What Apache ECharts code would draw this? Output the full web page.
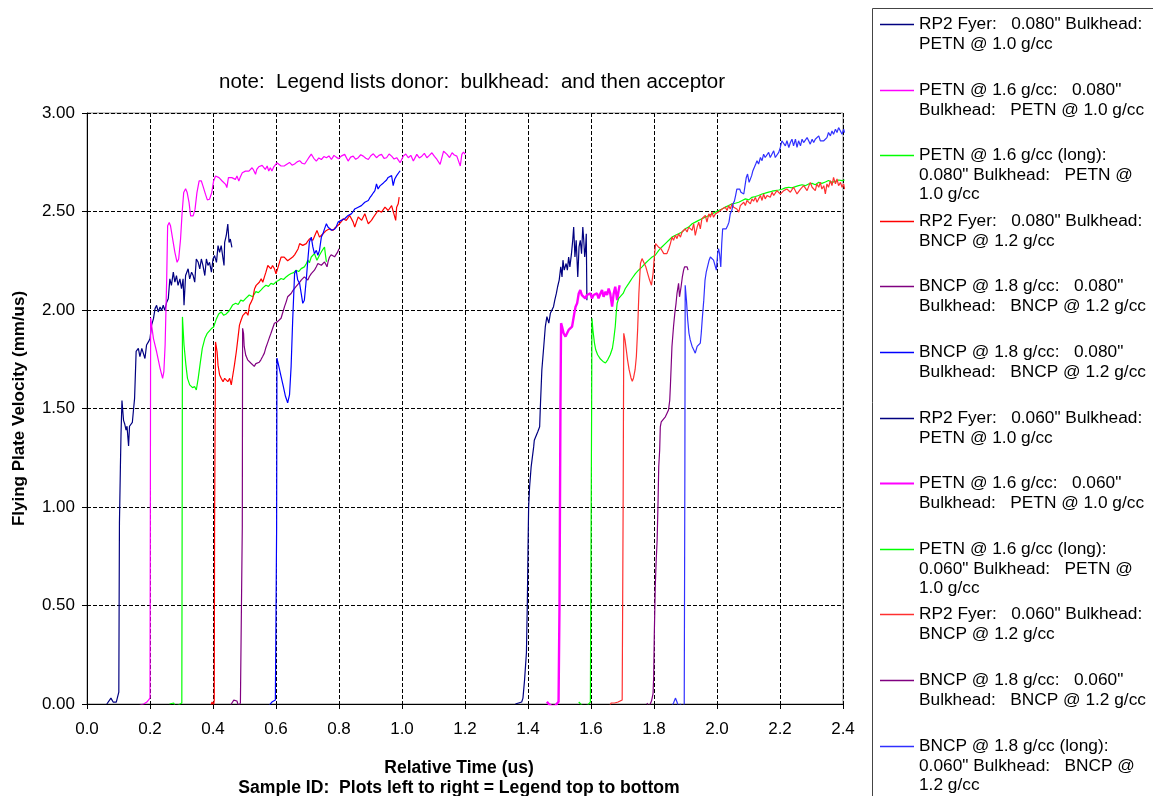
<!DOCTYPE html>
<html><head><meta charset="utf-8">
<script src="https://cdn.jsdelivr.net/npm/echarts@6/dist/echarts.min.js"></script>
<style>html,body{margin:0;padding:0;background:#fff}#c{width:1153px;height:796px}</style>
</head><body><div id="c"></div>
<script>
// ---------- DATA ----------
const titleText = 'note:  Legend lists donor:  bulkhead:  and then acceptor';
const yAxisTitle = 'Flying Plate Velocity (mm/us)';
const xAxisTitle = 'Relative Time (us)';
const xAxisSubtitle = 'Sample ID:  Plots left to right = Legend top to bottom';
const xTickLabels = ['0.0','0.2','0.4','0.6','0.8','1.0','1.2','1.4','1.6','1.8','2.0','2.2','2.4'];
const yTickLabels = ['0.00','0.50','1.00','1.50','2.00','2.50','3.00'];

const seriesNames = [
  'RP2 Fyer:   0.080" Bulkhead:\nPETN @ 1.0 g/cc',
  'PETN @ 1.6 g/cc:   0.080"\nBulkhead:   PETN @ 1.0 g/cc',
  'PETN @ 1.6 g/cc (long):\n0.080" Bulkhead:   PETN @\n1.0 g/cc',
  'RP2 Fyer:   0.080" Bulkhead:\nBNCP @ 1.2 g/cc',
  'BNCP @ 1.8 g/cc:   0.080"\nBulkhead:   BNCP @ 1.2 g/cc',
  'BNCP @ 1.8 g/cc:   0.080"\nBulkhead:   BNCP @ 1.2 g/cc\u200B',
  'RP2 Fyer:   0.060" Bulkhead:\nPETN @ 1.0 g/cc',
  'PETN @ 1.6 g/cc:   0.060"\nBulkhead:   PETN @ 1.0 g/cc',
  'PETN @ 1.6 g/cc (long):\n0.060" Bulkhead:   PETN @\n1.0 g/cc',
  'RP2 Fyer:   0.060" Bulkhead:\nBNCP @ 1.2 g/cc',
  'BNCP @ 1.8 g/cc:   0.060"\nBulkhead:   BNCP @ 1.2 g/cc',
  'BNCP @ 1.8 g/cc (long):\n0.060" Bulkhead:   BNCP @\n1.2 g/cc'
];

const s1 = [[0.063,0.0],[0.069,0.01],[0.076,0.03],[0.083,0.01],[0.088,0.0],[0.093,0.01],[0.098,0.02],[0.101,0.06],[0.102,0.5],[0.103,0.92],[0.106,1.2],[0.108,1.37],[0.111,1.54],[0.116,1.44],[0.12,1.42],[0.124,1.39],[0.127,1.41],[0.132,1.31],[0.135,1.41],[0.14,1.42],[0.144,1.43],[0.148,1.50],[0.151,1.55],[0.156,1.79],[0.163,1.805],[0.168,1.763],[0.174,1.805],[0.179,1.796],[0.184,1.754],[0.189,1.822],[0.195,1.838],[0.2,1.855],[0.205,1.923],[0.211,1.956],[0.216,2.007],[0.221,2.024],[0.226,1.99],[0.232,2.015],[0.237,1.998],[0.242,2.024],[0.247,1.998],[0.253,2.04],[0.258,2.057],[0.263,2.158],[0.268,2.125],[0.274,2.192],[0.279,2.141],[0.284,2.175],[0.289,2.125],[0.295,2.158],[0.3,2.108],[0.305,2.158],[0.308,2.024],[0.313,2.175],[0.321,2.209],[0.326,2.158],[0.332,2.192],[0.337,2.175],[0.342,2.141],[0.347,2.259],[0.353,2.242],[0.358,2.209],[0.363,2.259],[0.368,2.226],[0.374,2.175],[0.379,2.259],[0.384,2.226],[0.389,2.242],[0.395,2.192],[0.4,2.259],[0.405,2.276],[0.411,2.242],[0.416,2.327],[0.421,2.293],[0.426,2.327],[0.432,2.259],[0.435,2.226],[0.437,2.343],[0.442,2.377],[0.447,2.436],[0.451,2.343],[0.455,2.36],[0.46,2.318]];

const s2 = [[0.164,-0.02],[0.169,-0.005],[0.175,-0.015],[0.18,0.0],[0.185,-0.005],[0.19,0.01],[0.196,0.0],[0.2,0.03],[0.201,0.9],[0.202,1.96],[0.205,1.923],[0.211,1.855],[0.221,1.788],[0.232,1.704],[0.24,1.653],[0.244,1.687],[0.248,1.822],[0.253,2.158],[0.256,2.428],[0.261,2.444],[0.265,2.428],[0.272,2.36],[0.279,2.293],[0.286,2.242],[0.291,2.259],[0.297,2.36],[0.302,2.495],[0.307,2.596],[0.313,2.616],[0.318,2.596],[0.324,2.545],[0.329,2.478],[0.337,2.478],[0.343,2.512],[0.349,2.596],[0.356,2.655],[0.363,2.655],[0.368,2.63],[0.376,2.588],[0.382,2.559],[0.389,2.562],[0.396,2.596],[0.402,2.655],[0.408,2.68],[0.414,2.689],[0.419,2.672],[0.424,2.68],[0.429,2.655],[0.435,2.663],[0.44,2.638],[0.444,2.621],[0.449,2.672],[0.455,2.68],[0.46,2.672],[0.465,2.68],[0.471,2.663],[0.476,2.68],[0.482,2.655],[0.486,2.672],[0.493,2.697],[0.498,2.689],[0.503,2.705],[0.508,2.697],[0.514,2.705],[0.519,2.714],[0.524,2.722],[0.529,2.71],[0.535,2.689],[0.539,2.714],[0.545,2.727],[0.551,2.717],[0.556,2.734],[0.561,2.727],[0.566,2.714],[0.572,2.731],[0.577,2.705],[0.582,2.722],[0.587,2.705],[0.593,2.727],[0.598,2.731],[0.603,2.747],[0.608,2.756],[0.616,2.731],[0.627,2.732],[0.643,2.749],[0.651,2.735],[0.659,2.741],[0.667,2.752],[0.675,2.758],[0.683,2.745],[0.691,2.741],[0.702,2.768],[0.712,2.791],[0.72,2.77],[0.728,2.756],[0.736,2.772],[0.744,2.764],[0.752,2.779],[0.76,2.773],[0.768,2.782],[0.776,2.764],[0.784,2.785],[0.791,2.776],[0.799,2.768],[0.807,2.781],[0.818,2.79],[0.829,2.756],[0.837,2.776],[0.845,2.781],[0.853,2.765],[0.861,2.773],[0.869,2.788],[0.877,2.781],[0.885,2.77],[0.893,2.764],[0.901,2.783],[0.909,2.793],[0.919,2.773],[0.927,2.785],[0.935,2.79],[0.943,2.77],[0.951,2.773],[0.959,2.792],[0.967,2.781],[0.975,2.766],[0.983,2.773],[0.994,2.748],[1.004,2.781],[1.012,2.792],[1.02,2.773],[1.028,2.785],[1.036,2.756],[1.047,2.79],[1.055,2.772],[1.063,2.781],[1.071,2.795],[1.079,2.773],[1.087,2.785],[1.095,2.798],[1.103,2.78],[1.111,2.764],[1.121,2.739],[1.132,2.806],[1.143,2.79],[1.151,2.774],[1.159,2.798],[1.166,2.787],[1.174,2.781],[1.185,2.731],[1.19,2.79],[1.195,2.802],[1.201,2.79]];

const s3 = [[0.262,0.0],[0.268,-0.01],[0.275,0.005],[0.28,-0.01],[0.285,0.0],[0.29,-0.005],[0.295,0.0],[0.301,0.005],[0.302,0.9],[0.303,1.965],[0.305,1.906],[0.308,1.822],[0.314,1.72],[0.319,1.653],[0.326,1.62],[0.335,1.606],[0.342,1.611],[0.347,1.594],[0.353,1.653],[0.36,1.737],[0.366,1.805],[0.374,1.855],[0.381,1.88],[0.387,1.875],[0.395,1.906],[0.402,1.914],[0.411,1.956],[0.418,1.98],[0.426,1.99],[0.434,1.973],[0.442,1.98],[0.451,1.995],[0.462,2.025],[0.472,2.034],[0.48,2.028],[0.488,2.05],[0.496,2.045],[0.504,2.059],[0.515,2.076],[0.526,2.067],[0.536,2.093],[0.544,2.088],[0.552,2.101],[0.56,2.115],[0.568,2.126],[0.576,2.12],[0.584,2.135],[0.592,2.13],[0.6,2.143],[0.608,2.15],[0.616,2.16],[0.624,2.155],[0.632,2.168],[0.64,2.178],[0.648,2.185],[0.656,2.19],[0.664,2.202],[0.672,2.195],[0.68,2.21],[0.69,2.219],[0.696,2.235],[0.701,2.253],[0.706,2.24],[0.712,2.269],[0.717,2.26],[0.722,2.286],[0.73,2.253],[0.738,2.278],[0.747,2.303],[0.754,2.32],[0.757,2.28],[0.76,2.244]];

const s4 = [[0.381,-0.01],[0.386,0.0],[0.392,-0.015],[0.397,0.01],[0.402,-0.005],[0.404,0.02],[0.405,0.9],[0.408,1.838],[0.413,1.788],[0.416,1.72],[0.421,1.67],[0.426,1.653],[0.432,1.636],[0.437,1.653],[0.442,1.645],[0.447,1.636],[0.453,1.653],[0.458,1.62],[0.463,1.67],[0.468,1.72],[0.474,1.788],[0.479,1.855],[0.484,1.923],[0.489,1.948],[0.495,1.973],[0.5,1.965],[0.505,1.99],[0.511,1.973],[0.516,2.024],[0.521,2.04],[0.526,2.057],[0.532,2.108],[0.537,2.125],[0.542,2.133],[0.547,2.141],[0.553,2.158],[0.558,2.141],[0.563,2.167],[0.568,2.192],[0.574,2.226],[0.579,2.234],[0.584,2.209],[0.589,2.226],[0.595,2.209],[0.6,2.184],[0.605,2.209],[0.611,2.242],[0.616,2.268],[0.621,2.259],[0.626,2.268],[0.632,2.261],[0.637,2.25],[0.643,2.253],[0.653,2.269],[0.659,2.28],[0.664,2.286],[0.67,2.31],[0.675,2.337],[0.685,2.328],[0.696,2.337],[0.701,2.35],[0.707,2.362],[0.717,2.354],[0.73,2.404],[0.738,2.37],[0.744,2.38],[0.749,2.387],[0.76,2.404],[0.765,2.395],[0.77,2.412],[0.781,2.404],[0.786,2.415],[0.791,2.421],[0.797,2.43],[0.802,2.438],[0.808,2.45],[0.813,2.463],[0.823,2.455],[0.834,2.48],[0.845,2.446],[0.85,2.421],[0.856,2.45],[0.861,2.472],[0.872,2.455],[0.882,2.489],[0.888,2.46],[0.893,2.438],[0.903,2.455],[0.909,2.47],[0.914,2.48],[0.924,2.505],[0.935,2.497],[0.946,2.522],[0.956,2.505],[0.962,2.515],[0.967,2.53],[0.974,2.489],[0.98,2.455],[0.983,2.522],[0.988,2.539],[0.991,2.573]];

const s5 = [[0.455,-0.01],[0.46,0.005],[0.466,0.02],[0.471,0.03],[0.476,0.015],[0.481,-0.01],[0.487,0.005],[0.492,0.01],[0.493,0.9],[0.494,1.907],[0.497,1.88],[0.499,1.815],[0.504,1.77],[0.51,1.747],[0.515,1.738],[0.52,1.731],[0.526,1.74],[0.531,1.714],[0.536,1.728],[0.541,1.722],[0.547,1.735],[0.552,1.747],[0.558,1.765],[0.563,1.781],[0.568,1.81],[0.573,1.832],[0.579,1.86],[0.584,1.882],[0.59,1.91],[0.595,1.933],[0.6,1.93],[0.605,1.941],[0.611,1.95],[0.616,1.958],[0.622,1.99],[0.627,2.017],[0.632,2.04],[0.637,2.067],[0.643,2.075],[0.648,2.084],[0.654,2.1],[0.659,2.109],[0.664,2.12],[0.669,2.118],[0.675,2.14],[0.68,2.152],[0.685,2.16],[0.69,2.168],[0.696,2.16],[0.701,2.152],[0.706,2.17],[0.712,2.185],[0.717,2.19],[0.722,2.202],[0.728,2.22],[0.733,2.236],[0.738,2.23],[0.744,2.227],[0.749,2.236],[0.754,2.244],[0.758,2.232],[0.762,2.219],[0.766,2.25],[0.77,2.269],[0.775,2.28],[0.781,2.286],[0.786,2.27],[0.791,2.278],[0.796,2.295],[0.8,2.311]];

const s6 = [[0.577,-0.01],[0.582,0.0],[0.587,0.01],[0.593,0.005],[0.598,0.02],[0.601,0.03],[0.602,0.9],[0.603,1.756],[0.609,1.714],[0.616,1.663],[0.623,1.613],[0.63,1.562],[0.637,1.529],[0.643,1.571],[0.648,1.714],[0.653,1.95],[0.659,2.185],[0.664,2.202],[0.669,2.152],[0.675,2.135],[0.68,2.084],[0.685,2.034],[0.69,2.05],[0.696,2.152],[0.701,2.253],[0.706,2.345],[0.712,2.37],[0.717,2.32],[0.722,2.286],[0.728,2.303],[0.733,2.278],[0.738,2.303],[0.744,2.37],[0.749,2.387],[0.754,2.412],[0.76,2.438],[0.765,2.421],[0.77,2.412],[0.776,2.405],[0.781,2.396],[0.786,2.41],[0.791,2.421],[0.797,2.446],[0.802,2.45],[0.807,2.455],[0.813,2.458],[0.818,2.463],[0.824,2.47],[0.829,2.48],[0.834,2.485],[0.839,2.488],[0.845,2.5],[0.85,2.513],[0.856,2.518],[0.861,2.522],[0.866,2.525],[0.871,2.53],[0.877,2.54],[0.882,2.547],[0.888,2.55],[0.893,2.556],[0.898,2.57],[0.903,2.581],[0.909,2.595],[0.914,2.606],[0.919,2.64],[0.924,2.614],[0.93,2.63],[0.935,2.64],[0.941,2.645],[0.946,2.648],[0.951,2.66],[0.956,2.673],[0.962,2.678],[0.967,2.682],[0.972,2.631],[0.977,2.665],[0.983,2.682],[0.988,2.69],[0.994,2.707]];

const s7 = [[1.36,0.0],[1.365,-0.01],[1.37,0.005],[1.375,-0.005],[1.38,0.01],[1.384,0.03],[1.389,0.12],[1.395,0.26],[1.398,0.527],[1.4,0.78],[1.402,1.0],[1.405,1.1],[1.41,1.204],[1.418,1.305],[1.42,1.339],[1.431,1.382],[1.437,1.407],[1.439,1.5],[1.444,1.697],[1.45,1.815],[1.455,1.916],[1.46,1.966],[1.466,1.933],[1.471,1.983],[1.476,2.0],[1.481,2.017],[1.485,2.05],[1.49,2.084],[1.494,2.118],[1.499,2.152],[1.504,2.219],[1.508,2.168],[1.511,2.253],[1.515,2.202],[1.521,2.236],[1.525,2.202],[1.529,2.269],[1.533,2.219],[1.538,2.286],[1.542,2.354],[1.545,2.421],[1.549,2.269],[1.553,2.354],[1.558,2.168],[1.562,2.32],[1.566,2.354],[1.57,2.286],[1.574,2.421],[1.577,2.354],[1.58,2.269],[1.583,2.32],[1.585,2.387],[1.587,2.05]];

const s8 = [[1.46,0.011],[1.466,0.0],[1.471,-0.01],[1.476,-0.011],[1.481,-0.011],[1.487,-0.008],[1.492,0.0],[1.497,0.011],[1.5,0.5],[1.503,1.5],[1.505,1.933],[1.508,1.916],[1.513,1.882],[1.519,1.865],[1.524,1.882],[1.529,1.899],[1.534,1.891],[1.54,1.916],[1.543,1.907],[1.547,1.983],[1.551,2.017],[1.556,2.034],[1.561,2.084],[1.566,2.101],[1.571,2.076],[1.577,2.084],[1.582,2.059],[1.587,2.076],[1.593,2.067],[1.598,2.084],[1.603,2.059],[1.608,2.076],[1.614,2.067],[1.619,2.084],[1.624,2.059],[1.63,2.084],[1.635,2.101],[1.64,2.067],[1.646,2.093],[1.651,2.076],[1.656,2.109],[1.661,2.084],[1.667,2.017],[1.672,2.084],[1.677,2.118],[1.683,2.05],[1.688,2.101],[1.691,2.126]];

const s9 = [[1.561,0.01],[1.57,-0.005],[1.58,-0.01],[1.59,-0.005],[1.598,0.01],[1.599,0.43],[1.602,1.5],[1.603,1.958],[1.606,1.899],[1.611,1.832],[1.615,1.798],[1.621,1.773],[1.63,1.751],[1.638,1.739],[1.646,1.731],[1.653,1.747],[1.661,1.773],[1.668,1.806],[1.672,1.848],[1.677,1.916],[1.68,1.983],[1.683,2.034],[1.688,2.059],[1.693,2.067],[1.702,2.084],[1.709,2.109],[1.72,2.135],[1.73,2.16],[1.741,2.185],[1.751,2.202],[1.762,2.219],[1.772,2.236],[1.783,2.253],[1.794,2.269],[1.804,2.278],[1.815,2.303],[1.825,2.32],[1.836,2.337],[1.847,2.354],[1.857,2.37],[1.868,2.379],[1.878,2.387],[1.889,2.396],[1.899,2.412],[1.91,2.421],[1.921,2.438],[1.931,2.446],[1.942,2.455],[1.952,2.463],[1.963,2.471],[1.974,2.48],[1.984,2.488],[1.995,2.497],[2.005,2.505],[2.016,2.513],[2.026,2.522],[2.037,2.53],[2.048,2.539],[2.058,2.542],[2.069,2.547],[2.08,2.556],[2.09,2.564],[2.101,2.559],[2.111,2.572],[2.122,2.576],[2.132,2.581],[2.143,2.589],[2.153,2.593],[2.164,2.598],[2.175,2.603],[2.185,2.606],[2.196,2.609],[2.206,2.613],[2.217,2.62],[2.228,2.623],[2.238,2.62],[2.249,2.626],[2.259,2.631],[2.27,2.636],[2.28,2.631],[2.291,2.64],[2.302,2.643],[2.312,2.636],[2.323,2.648],[2.333,2.643],[2.344,2.65],[2.354,2.657],[2.365,2.648],[2.376,2.653],[2.386,2.66],[2.397,2.657],[2.405,2.66]];

const s10 = [[1.659,-0.01],[1.664,0.005],[1.669,0.01],[1.675,0.005],[1.68,0.015],[1.686,0.01],[1.692,0.015],[1.699,0.02],[1.702,1.0],[1.704,1.882],[1.708,1.848],[1.712,1.798],[1.716,1.747],[1.721,1.697],[1.727,1.655],[1.731,1.638],[1.735,1.655],[1.74,1.697],[1.744,1.764],[1.748,1.899],[1.752,2.084],[1.757,2.236],[1.762,2.261],[1.767,2.253],[1.774,2.219],[1.78,2.185],[1.786,2.152],[1.792,2.126],[1.797,2.185],[1.801,2.269],[1.805,2.337],[1.81,2.345],[1.814,2.32],[1.818,2.328],[1.822,2.311],[1.826,2.303],[1.831,2.286],[1.836,2.278],[1.841,2.286],[1.847,2.311],[1.852,2.337],[1.857,2.37],[1.862,2.354],[1.868,2.379],[1.873,2.362],[1.878,2.387],[1.884,2.37],[1.889,2.396],[1.894,2.404],[1.899,2.412],[1.905,2.396],[1.91,2.421],[1.915,2.429],[1.921,2.404],[1.926,2.438],[1.931,2.379],[1.937,2.421],[1.942,2.446],[1.947,2.412],[1.952,2.463],[1.958,2.455],[1.963,2.48],[1.968,2.446],[1.974,2.488],[1.979,2.471],[1.984,2.497],[1.989,2.471],[1.995,2.488],[2.0,2.48],[2.005,2.497],[2.011,2.505],[2.016,2.513],[2.021,2.505],[2.026,2.522],[2.032,2.505],[2.037,2.53],[2.042,2.513],[2.048,2.539],[2.053,2.522],[2.058,2.53],[2.063,2.513],[2.069,2.497],[2.074,2.53],[2.079,2.539],[2.085,2.547],[2.09,2.53],[2.095,2.556],[2.101,2.547],[2.106,2.539],[2.111,2.564],[2.116,2.552],[2.122,2.572],[2.127,2.547],[2.132,2.564],[2.138,2.581],[2.143,2.556],[2.148,2.589],[2.153,2.564],[2.159,2.581],[2.164,2.589],[2.169,2.572],[2.175,2.598],[2.18,2.581],[2.185,2.589],[2.19,2.606],[2.201,2.589],[2.212,2.606],[2.222,2.614],[2.233,2.598],[2.243,2.623],[2.254,2.589],[2.265,2.614],[2.275,2.631],[2.286,2.606],[2.296,2.648],[2.302,2.623],[2.307,2.631],[2.312,2.606],[2.317,2.64],[2.323,2.623],[2.328,2.648],[2.333,2.614],[2.339,2.631],[2.344,2.589],[2.349,2.64],[2.354,2.623],[2.36,2.657],[2.365,2.631],[2.37,2.673],[2.376,2.64],[2.381,2.665],[2.386,2.631],[2.392,2.648],[2.397,2.623],[2.402,2.64],[2.405,2.614]];

const s11 = [[1.778,0.005],[1.783,-0.02],[1.788,0.0],[1.792,0.015],[1.797,0.053],[1.799,0.137],[1.801,0.357],[1.804,0.595],[1.807,0.73],[1.81,0.832],[1.813,1.035],[1.815,1.204],[1.818,1.288],[1.82,1.407],[1.823,1.432],[1.829,1.441],[1.836,1.458],[1.841,1.475],[1.846,1.492],[1.85,1.542],[1.852,1.613],[1.857,1.815],[1.862,1.916],[1.866,1.983],[1.87,2.034],[1.873,2.084],[1.878,2.135],[1.881,2.067],[1.886,2.118],[1.89,2.168],[1.894,2.202],[1.897,2.219],[1.901,2.227],[1.905,2.219],[1.908,2.202]];

const s12 = [[1.857,-0.01],[1.862,0.005],[1.868,0.03],[1.873,0.01],[1.878,-0.015],[1.884,0.0],[1.889,-0.02],[1.894,-0.01],[1.896,0.0],[1.898,1.2],[1.899,2.126],[1.903,2.05],[1.907,1.95],[1.911,1.882],[1.915,1.848],[1.921,1.815],[1.926,1.798],[1.931,1.781],[1.937,1.815],[1.942,1.806],[1.947,1.832],[1.95,1.882],[1.953,1.95],[1.958,2.05],[1.962,2.152],[1.966,2.194],[1.97,2.202],[1.975,2.253],[1.979,2.269],[1.984,2.261],[1.989,2.253],[1.995,2.219],[1.998,2.202],[2.002,2.286],[2.005,2.311],[2.008,2.286],[2.012,2.219],[2.015,2.337],[2.018,2.412],[2.023,2.421],[2.029,2.412],[2.034,2.429],[2.038,2.446],[2.042,2.488],[2.047,2.505],[2.051,2.539],[2.055,2.552],[2.059,2.581],[2.063,2.614],[2.068,2.606],[2.072,2.614],[2.076,2.598],[2.08,2.606],[2.085,2.589],[2.089,2.631],[2.093,2.673],[2.097,2.69],[2.102,2.648],[2.106,2.64],[2.11,2.682],[2.114,2.707],[2.119,2.715],[2.123,2.741],[2.127,2.758],[2.132,2.741],[2.138,2.774],[2.143,2.758],[2.148,2.791],[2.153,2.774],[2.159,2.783],[2.164,2.8],[2.169,2.774],[2.175,2.783],[2.18,2.808],[2.185,2.774],[2.19,2.783],[2.196,2.8],[2.201,2.825],[2.206,2.859],[2.212,2.85],[2.217,2.833],[2.222,2.859],[2.228,2.825],[2.233,2.85],[2.238,2.867],[2.243,2.833],[2.249,2.867],[2.254,2.825],[2.259,2.859],[2.265,2.833],[2.27,2.867],[2.275,2.85],[2.28,2.842],[2.286,2.875],[2.291,2.859],[2.296,2.842],[2.302,2.867],[2.307,2.85],[2.312,2.867],[2.317,2.875],[2.323,2.884],[2.328,2.859],[2.333,2.867],[2.339,2.859],[2.344,2.85],[2.349,2.875],[2.354,2.901],[2.36,2.884],[2.365,2.909],[2.37,2.892],[2.376,2.918],[2.381,2.901],[2.386,2.926],[2.392,2.918],[2.397,2.892],[2.402,2.918],[2.405,2.9]];

const seriesData = [s1,s2,s3,s4,s5,s6,s7,s8,s9,s10,s11,s12];

// ---------- STYLE ----------
const FONT = '"Liberation Sans", Arial, sans-serif';
const seriesColors = ['#000080','#FF00FF','#00FF00','#FF0000','#800080','#0000FF','#000080','#FF00FF','#00FF00','#FF3030','#800080','#3030FF'];
const seriesWidths = [1.2,1.2,1.2,1.2,1.2,1.2,1.2,2.4,1.2,1.2,1.2,1.2];

const series = seriesNames.map((name, i) => ({
  name: name,
  type: 'line',
  data: seriesData[i],
  showSymbol: false,
  symbol: 'none',
  color: seriesColors[i],
  lineStyle: { color: seriesColors[i], width: seriesWidths[i] },
  itemStyle: { color: seriesColors[i] },
  emphasis: { disabled: true },
  animation: false,
  clip: true,
  z: 3 + i
}));

const LH = 19.5;
const legends = seriesNames.map((name, i) => {
  const n = name.split('\n').length;
  const h = i === 7 ? 2 : 1.4;
  const firstLineY = Math.round(24 + 65.6 * i) + 0.5;
  return {
    data: [{ name: name, icon: 'rect', itemStyle: { color: seriesColors[i] } }],
    left: 880,
    top: firstLineY - (2 * n - 1) * LH / 2,
    padding: 0,
    itemGap: 0,
    itemWidth: 34,
    itemHeight: h,
    selectedMode: false,
    formatter: t => '\n'.repeat(n - 1) + t,
    itemStyle: { color: seriesColors[i], borderWidth: 0 },
    textStyle: { fontSize: 17.3, lineHeight: LH, color: '#000', fontFamily: FONT }
  };
});

const chart = echarts.init(document.getElementById('c'), null, { renderer: 'canvas' });
chart.setOption({
  backgroundColor: '#fff',
  animation: false,
  title: {
    text: titleText,
    left: 219, top: 70, padding: 0,
    textStyle: { fontSize: 20.5, fontWeight: 'normal', color: '#000', fontFamily: FONT, lineHeight: 24 }
  },
  legend: legends,
  graphic: [{
    type: 'rect', z: -1, silent: true,
    shape: { x: 872.5, y: 8.5, width: 320, height: 820 },
    style: { fill: '#fff', stroke: '#444', lineWidth: 1 }
  }],
  grid: { left: 87, right: 310, top: 113, bottom: 92, containLabel: false, outerBoundsMode: 'none',
          show: true, borderColor: '#8c8c8c', borderWidth: 1, backgroundColor: 'transparent' },
  xAxis: {
    type: 'value', min: 0, max: 2.4, interval: 0.2,
    name: '{a|' + xAxisTitle + '}\n{b|' + xAxisSubtitle + '}',
    nameLocation: 'middle', nameGap: 54,
    nameTextStyle: {
      color: '#000', fontFamily: FONT, padding: [0, 12, 0, 0],
      rich: {
        a: { fontSize: 17.5, fontWeight: 'bold', lineHeight: 20, color: '#000', fontFamily: FONT },
        b: { fontSize: 17.6, fontWeight: 'bold', lineHeight: 20, color: '#000', fontFamily: FONT }
      }
    },
    axisLine: { show: true, onZero: false, lineStyle: { color: '#000', width: 1 } },
    axisTick: { show: true, length: 5, lineStyle: { color: '#000' } },
    axisLabel: {
      fontSize: 17, color: '#000', fontFamily: FONT, margin: 17,
      formatter: v => xTickLabels[Math.round(v / 0.2)]
    },
    splitLine: { show: true, lineStyle: { color: '#000', width: 1, type: [4, 2] } }
  },
  yAxis: {
    type: 'value', min: 0, max: 3, interval: 0.5,
    name: yAxisTitle, nameLocation: 'middle', nameGap: 59,
    nameTextStyle: { fontSize: 17, fontWeight: 'bold', color: '#000', fontFamily: FONT },
    axisLine: { show: true, onZero: false, lineStyle: { color: '#000', width: 1 } },
    axisTick: { show: true, length: 5, lineStyle: { color: '#000' } },
    axisLabel: {
      fontSize: 17, color: '#000', fontFamily: FONT, margin: 12,
      formatter: v => yTickLabels[Math.round(v / 0.5)]
    },
    splitLine: { show: true, lineStyle: { color: '#000', width: 1, type: [4, 2] } }
  },
  series: series
});
</script>
</body></html>
